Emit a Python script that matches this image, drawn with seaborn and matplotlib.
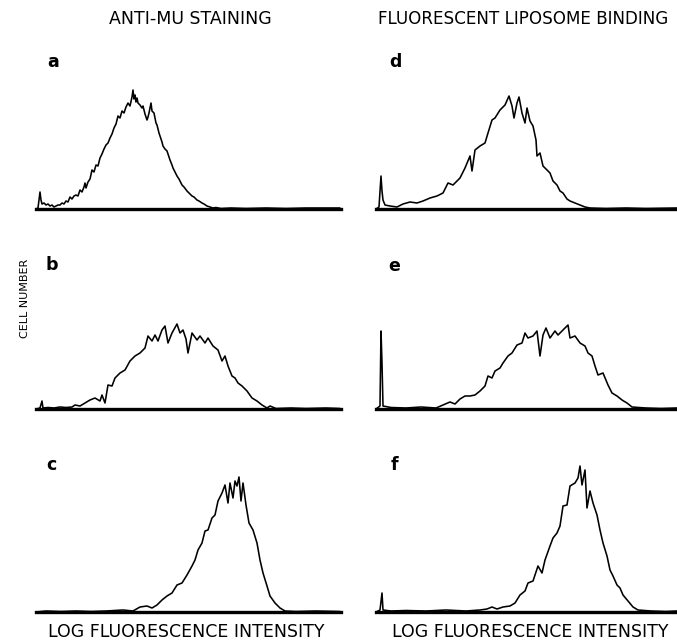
import numpy as np
import matplotlib
matplotlib.use("Agg")
import matplotlib.pyplot as plt
import seaborn as sns

# histogram traces (channel, cell count)
a_x = [0, 2, 4, 5, 6, 8, 10, 12, 14, 16, 18, 20, 22, 24, 26, 28, 30, 32, 34, 36, 38, 40, 42, 44, 46, 48, 49, 50, 52, 54,
       56, 58, 60, 62, 64, 66, 68, 70, 72, 74, 76, 78, 80, 82, 84, 86, 88, 90, 92, 94, 96, 97, 98, 99, 100, 101, 102, 104,
       106, 107, 109, 111, 112, 113, 115, 116, 118, 120, 121, 123, 124, 126, 127, 129, 131, 133, 134, 136, 137, 139, 141,
       143, 146, 148, 151, 153, 156, 158, 161, 163, 166, 168, 171, 174, 177, 180, 185, 195, 210, 230, 250, 270, 290, 304]
a_y = [0, 1, 17, 9, 5, 6, 4, 5, 3, 4, 2, 3, 4, 4, 6, 5, 8, 7, 12, 10, 13, 14, 13, 19, 17, 22, 26, 21, 27, 30,
       39, 37, 44, 43, 51, 55, 60, 64, 66, 71, 75, 81, 85, 93, 91, 98, 96, 102, 106, 103, 112, 119, 110, 114, 107, 111,
       106, 104, 101, 103, 95, 89, 92, 96, 106, 98, 96, 86, 84, 76, 73, 67, 63, 60, 58, 52, 49, 44, 41, 37, 33,
       30, 24, 22, 18, 16, 13, 12, 9, 8, 6, 5, 3, 2, 1, 1.5, 0.5, 1, 0.5, 1, 0.5, 1, 1, 1]

b_x = [0, 4, 6, 7, 12, 18, 24, 30, 36, 39, 44, 49, 54, 59, 64, 66, 69, 72, 76, 79, 84, 89, 94, 99, 104, 109, 112, 116,
       119, 122, 126, 129, 132, 136, 141, 144, 147, 150, 152, 156, 161, 164, 169, 172, 177, 182, 186, 189, 192, 196,
       199, 202, 206, 211, 216, 221, 226, 231, 234, 240, 255, 270, 290, 304]
b_y = [0, 1, 8, 1, 1.5, 1, 2, 1.5, 2, 4, 3, 6, 9, 11, 8, 14, 6, 24, 23, 31, 36, 39, 48, 53, 56, 61, 73, 68,
       74, 68, 79, 83, 66, 76, 85, 76, 79, 70, 56, 76, 69, 73, 66, 71, 63, 59, 48, 53, 43, 33,
       31, 26, 23, 18, 11, 8, 4, 1, 3, 0.5, 1, 0.5, 1, 0.5]

c_x = [0, 10, 25, 40, 55, 70, 87, 97, 104, 111, 116, 121, 126, 131, 136, 141, 146, 151, 156, 159, 162, 166, 169, 172,
       176, 179, 182, 186, 189, 192, 194, 197, 199, 201, 203, 205, 207, 210, 213, 217, 221, 224, 227, 231, 234, 239,
       244, 249, 260, 280, 304]
c_y = [0, 1, 0.5, 1, 0.5, 1, 2, 1, 5, 6, 4, 7, 12, 16, 19, 27, 29, 37, 46, 52, 62, 69, 81, 82,
       94, 97, 111, 119, 127, 109, 129, 114, 131, 126, 135, 111, 129, 107, 89, 82, 69, 52, 39, 26, 16, 9,
       4, 1, 0.5, 1, 0.5]

d_x = [0, 3, 5, 6, 7, 9, 14, 21, 27, 34, 41, 47, 54, 61, 67, 72, 77, 84, 89, 94, 96, 99, 104, 109, 112, 116, 119, 124,
       129, 133, 136, 138, 141, 143, 146, 149, 151, 154, 157, 160, 161, 164, 167, 171, 174, 177, 181, 184, 187, 191,
       194, 199, 204, 209, 214, 230, 250, 270, 301]
d_y = [0, 2, 33, 18, 9, 4, 3, 2, 5, 7, 6, 8, 11, 13, 16, 26, 24, 31, 41, 53, 38, 59, 63, 66, 76, 89, 91, 99,
       104, 113, 103, 91, 106, 112, 96, 86, 101, 88, 83, 69, 53, 56, 43, 39, 36, 28, 24, 18, 16, 10,
       8, 6, 4, 2, 1, 0.5, 1, 0.5, 1]

e_x = [0, 4, 5, 6, 7, 15, 30, 45, 60, 74, 79, 84, 89, 94, 99, 104, 109, 112, 116, 119, 124, 127, 132, 136, 141, 146,
       149, 152, 157, 161, 164, 167, 170, 174, 179, 182, 187, 192, 194, 199, 204, 209, 212, 216, 219, 222, 227, 232,
       236, 241, 246, 251, 256, 270, 285, 301]
e_y = [0, 3, 78, 46, 3, 1.5, 1, 2, 1, 7, 5, 10, 13, 13, 14, 18, 23, 33, 31, 38, 41, 46, 53, 56, 64, 66,
       76, 71, 73, 78, 53, 74, 81, 71, 78, 74, 79, 84, 71, 73, 66, 63, 56, 53, 43, 34, 36, 24,
       16, 13, 9, 6, 2, 1, 0.5, 1]

f_x = [0, 4, 6, 7, 15, 30, 50, 70, 90, 104, 111, 116, 121, 127, 134, 139, 144, 149, 152, 157, 162, 166, 169, 174, 177,
       181, 184, 187, 191, 194, 199, 202, 204, 206, 209, 211, 214, 217, 221, 224, 227, 231, 234, 237, 241, 244, 247,
       252, 257, 262, 275, 290, 301]
f_y = [0, 2, 19, 2, 1, 1.5, 1, 2, 1, 2, 3, 5, 3, 5, 6, 9, 17, 21, 29, 31, 46, 39, 52, 66, 74,
       79, 86, 106, 107, 126, 129, 134, 146, 127, 142, 104, 121, 109, 97, 82, 69, 56, 42, 36, 27, 24, 17,
       11, 5, 2, 1, 0.5, 1]

col_titles = ["ANTI-MU STAINING", "FLUORESCENT LIPOSOME BINDING"]
x_label = "LOG FLUORESCENCE INTENSITY"
y_label = "CELL NUMBER"
panel_letters = ["a", "b", "c", "d", "e", "f"]

sns.set_style("white")
plt.rcParams['font.family'] = ['DejaVu Sans']
plt.rcParams['text.color'] = 'black'

W, H = 677, 642
fig = plt.figure(figsize=(W / 100, H / 100), dpi=100)


def fx(px):
    return px / W


def fy(py):
    return 1 - py / H


# left edge / width of each column, baseline of each row (pixels from top)
cols = [(36, 305), (376, 301)]
rows = [209, 409, 612]
ax_h = 160

traces = [(a_x, a_y), (b_x, b_y), (c_x, c_y), (d_x, d_y), (e_x, e_y), (f_x, f_y)]

for i, (xs, ys) in enumerate(traces):
    c, r = divmod(i, 3)
    left, width = cols[c]
    base = rows[r]
    ax = fig.add_axes([fx(left), fy(base), width / W, ax_h / H])
    sns.lineplot(x=xs, y=ys, ax=ax, color="black", linewidth=1.15, estimator=None)
    ax.set_xlim(0, width)
    ax.set_ylim(0, ax_h)
    ax.set_xticks([])
    ax.set_yticks([])
    for s in ["top", "left", "right"]:
        ax.spines[s].set_visible(False)
    ax.spines["bottom"].set_linewidth(2.4)
    ax.spines["bottom"].set_color("black")
    ax.patch.set_alpha(0)

# panel letters
letter_pos = [(53, 67), (52, 270), (51, 470), (395, 67), (394, 271), (394, 470)]
for lt, (px, py) in zip(panel_letters, letter_pos):
    fig.text(fx(px), fy(py), lt, ha="center", va="baseline", fontsize=12.5, fontweight="bold", color="black")

fig.text(fx(190), fy(24), col_titles[0], ha="center", va="baseline", fontsize=12.5, color="black")
fig.text(fx(378), fy(24), col_titles[1], ha="left", va="baseline", fontsize=12.1, color="black")

fig.text(fx(186), fy(637), x_label, ha="center", va="baseline", fontsize=12.5, color="black")
fig.text(fx(530), fy(637), x_label, ha="center", va="baseline", fontsize=12.5, color="black")

fig.text(fx(25), fy(298), y_label, ha="center", va="center", rotation=90, fontsize=8,
         color="black")

fig.savefig("out.png", dpi=100)
